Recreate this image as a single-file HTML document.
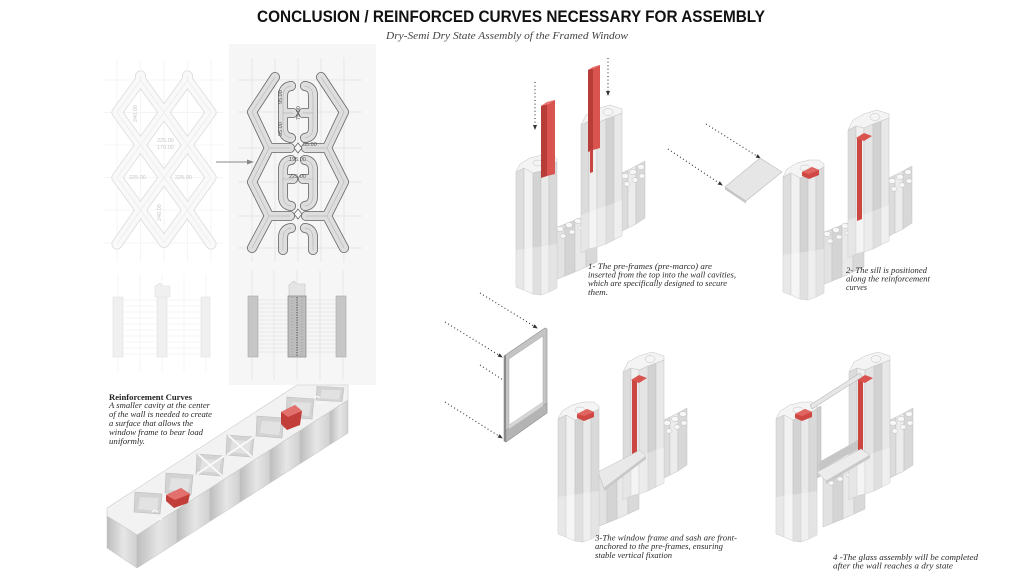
<!DOCTYPE html>
<html><head><meta charset="utf-8">
<style>
html,body{margin:0;padding:0;background:#fff;}
svg{display:block;}
.t{font-family:"Liberation Serif",serif;font-style:italic;font-size:8px;fill:#2a2a2a;}
.lab{font-family:"Liberation Sans",sans-serif;font-size:5.5px;}
</style></head><body>
<svg width="1024" height="576" viewBox="0 0 1024 576" xmlns="http://www.w3.org/2000/svg">
<defs>
<linearGradient id="bul" x1="0" y1="0" x2="1" y2="0"><stop offset="0" stop-color="#bdbdbd"/><stop offset="0.55" stop-color="#e6e6e6"/><stop offset="1" stop-color="#d0d0d0"/></linearGradient>
<marker id="ah" markerWidth="5" markerHeight="5" refX="4" refY="2.5" orient="auto" markerUnits="userSpaceOnUse"><path d="M0,0.5 L5,2.5 L0,4.5 Z" fill="#333"/></marker>
<path id="latL" d="M140.5,80 L164,112.5 L140.5,145 L117,112.5 Z M187.5,80 L211,112.5 L187.5,145 L164,112.5 Z M164,112.5 L187.5,145 L164,177.5 L140.5,145 Z M140.5,145 L164,177.5 L140.5,210 L117,177.5 Z M187.5,145 L211,177.5 L187.5,210 L164,177.5 Z M164,177.5 L187.5,210 L164,242.5 L140.5,210 Z M140.5,210 L117,244 M187.5,210 L211,244 M140.5,80 L140.5,76 M187.5,80 L187.5,76"/>
<path id="latR" d="M275,77 L252,112 L269,148 L252,182 L269,216 L252,248 M321,77 L344,112 L327,148 L344,182 L327,216 L344,248 M291,86 Q283,87 283,96 L283,128 Q283,137 291,138 M283,113 L293,113 M305,86 Q313,87 313,96 L313,128 Q313,137 305,138 M313,113 L303,113 M269,148 L290,148 M327,148 L306,148 M291,160 Q283,161 283,170 L283,196 Q283,205 291,206 M283,179 L293,179 M305,160 Q313,161 313,170 L313,196 Q313,205 305,206 M313,179 L303,179 M269,216 L290,216 M327,216 L306,216 M291,228 Q283,229 283,238 L283,250 M305,228 Q313,229 313,238 L313,250"/>
<g id="wr" stroke="#c2c2c2" stroke-width="0.5">
 <polygon points="620,174 628,170 628,228 620,232" fill="#dcdcdc"/>
 <polygon points="628,170 636,166 636,224 628,228" fill="#ececec"/>
 <polygon points="636,166 645,161 645,218 636,224" fill="#d8d8d8"/>
 <g fill="#f7f7f7" stroke="#bdbdbd">
  <ellipse cx="625" cy="176" rx="3.5" ry="2.6"/><ellipse cx="633" cy="172" rx="3.5" ry="2.6"/><ellipse cx="641" cy="167" rx="3.5" ry="2.6"/>
  <ellipse cx="627" cy="184" rx="3" ry="2.3"/><ellipse cx="635" cy="180" rx="3" ry="2.3"/><ellipse cx="642" cy="176" rx="3" ry="2.3"/>
 </g>
 <polygon points="555,228 565,224 565,276 555,280" fill="#e2e2e2"/>
 <polygon points="565,224 575,220 575,272 565,276" fill="#d4d4d4"/>
 <polygon points="575,220 586,216 586,267 575,272" fill="#e9e9e9"/>
 <polygon points="586,216 597,212 597,262 586,267" fill="#d9d9d9"/>
 <g fill="#f7f7f7" stroke="#bdbdbd">
  <ellipse cx="560" cy="229" rx="3.5" ry="2.6"/><ellipse cx="569" cy="225" rx="3.5" ry="2.6"/><ellipse cx="578" cy="221" rx="3.5" ry="2.6"/><ellipse cx="587" cy="217" rx="3.5" ry="2.6"/>
  <ellipse cx="563" cy="236" rx="3" ry="2.2"/><ellipse cx="572" cy="232" rx="3" ry="2.2"/><ellipse cx="581" cy="228" rx="3" ry="2.2"/>
 </g>
 <polygon points="581,125 589,121 589,249 581,253" fill="#dcdcdc"/>
 <polygon points="589,121 597,123 597,247 589,249" fill="#efefef"/>
 <polygon points="597,123 606,119 606,244 597,247" fill="#e4e4e4"/>
 <polygon points="606,119 614,116 614,240 606,244" fill="#d2d2d2"/>
 <polygon points="614,116 622,113 622,236 614,240" fill="#e8e8e8"/>
 <polygon points="581,215 622,200 622,236 614,240 606,244 597,247 589,249 581,253" fill="#fff" fill-opacity="0.3" stroke="none"/>
 <polygon points="581,125 586,115 597,109 610,105 622,109 622,113 614,116 606,119 597,123 589,121" fill="#f4f4f4"/>
 <ellipse cx="608" cy="112" rx="5" ry="3.5" fill="none"/>
</g>
<g id="wl" stroke="#c2c2c2" stroke-width="0.5">
 <polygon points="516,172 524,168 524,290 516,287" fill="#dedede"/>
 <polygon points="524,168 533,171 533,294 524,290" fill="#f1f1f1"/>
 <polygon points="533,173 541,171 541,295 533,294" fill="#d3d3d3"/>
 <polygon points="541,171 549,166 549,292 541,295" fill="#e9e9e9"/>
 <polygon points="549,166 557,162 557,288 549,292" fill="#d9d9d9"/>
 <polygon points="516,250 557,244 557,288 549,292 541,295 533,294 524,290 516,287" fill="#fff" fill-opacity="0.3" stroke="none"/>
 <polygon points="516,172 520,164 530,158 542,155 552,155 557,159 557,162 549,166 541,171 533,173 524,168" fill="#f4f4f4"/>
 <ellipse cx="538" cy="163" rx="5" ry="3" fill="none"/>
</g>
<g id="redR">
 <polygon points="590,133 595,131 595,214 590,216" fill="#cc4642"/>
 <polygon points="589,133 597,128 605,131 597,136" fill="#d9534f"/>
</g>
<g id="redL">
 <polygon points="535,167 545,162 552,165 552,170 542,174 535,171" fill="#cf4844"/>
 <polygon points="535,167 545,162 552,165 542,169" fill="#e06460"/>
</g>
<g id="cell">
 <polygon points="-13,-11 14,-9 12,11 -14,9" fill="#d3d3d3" stroke="#bcbcbc" stroke-width="0.6"/>
 <polygon points="-8,-6 11,-5 9,8 -10,6" fill="#e2e2e2"/>
</g>
</defs>

<!-- Title -->
<text x="257" y="22" font-family="Liberation Sans, sans-serif" font-weight="bold" font-size="17" textLength="508" lengthAdjust="spacingAndGlyphs" fill="#111">CONCLUSION / REINFORCED CURVES NECESSARY FOR ASSEMBLY</text>
<text x="386" y="39" font-family="Liberation Serif, serif" font-style="italic" font-size="11" textLength="242" lengthAdjust="spacingAndGlyphs" fill="#444">Dry-Semi Dry State Assembly of the Framed Window</text>

<!-- Right panel bg -->
<rect x="229" y="44" width="147" height="341" fill="#f6f6f6"/>

<!-- Left grid -->
<g stroke="#f1f1f1" stroke-width="0.7">
 <line x1="117" y1="60" x2="117" y2="262"/><line x1="140.5" y1="60" x2="140.5" y2="262"/><line x1="164" y1="60" x2="164" y2="262"/><line x1="187.5" y1="60" x2="187.5" y2="262"/><line x1="211" y1="60" x2="211" y2="262"/>
 <line x1="103" y1="80" x2="223" y2="80"/><line x1="103" y1="112.5" x2="223" y2="112.5"/><line x1="103" y1="145" x2="223" y2="145"/><line x1="103" y1="177.5" x2="223" y2="177.5"/><line x1="103" y1="210" x2="223" y2="210"/><line x1="103" y1="243" x2="223" y2="243"/>
</g>
<!-- Right grid -->
<g stroke="#e2e2e2" stroke-width="0.7">
 <line x1="252" y1="58" x2="252" y2="262"/><line x1="275" y1="58" x2="275" y2="262"/><line x1="298" y1="58" x2="298" y2="262"/><line x1="321" y1="58" x2="321" y2="262"/><line x1="344" y1="58" x2="344" y2="262"/>
 <line x1="238" y1="80" x2="362" y2="80"/><line x1="238" y1="112" x2="362" y2="112"/><line x1="238" y1="148" x2="362" y2="148"/><line x1="238" y1="182" x2="362" y2="182"/><line x1="238" y1="216" x2="362" y2="216"/><line x1="238" y1="248" x2="362" y2="248"/>
</g>

<!-- Left lattice (faint) -->
<g fill="none" stroke-linejoin="round" stroke-linecap="round">
 <use href="#latL" stroke="#dcdcdc" stroke-width="11"/>
 <use href="#latL" stroke="#f9f9f9" stroke-width="9.4"/>
 <use href="#latL" stroke="#e6e6e6" stroke-width="0.6"/>
</g>
<g class="lab" fill="#c8c8c8">
 <text transform="translate(137,122) rotate(-90)">240.00</text>
 <text x="157" y="142">225.00</text>
 <text x="157" y="149">170.00</text>
 <text x="129" y="179">225.00</text>
 <text x="175" y="179">225.00</text>
 <text transform="translate(161,221) rotate(-90)">240.00</text>
</g>

<!-- Arrow -->
<line x1="216" y1="162" x2="249" y2="162" stroke="#888" stroke-width="1"/>
<polygon points="254,162 247,159.5 247,164.5" fill="#888"/>

<!-- Right lattice -->
<g fill="none" stroke-linejoin="round" stroke-linecap="round">
 <use href="#latR" stroke="#666" stroke-width="10"/>
 <use href="#latR" stroke="#dedede" stroke-width="8.4"/>
 <use href="#latR" stroke="#a8a8a8" stroke-width="0.5"/>
</g>
<polygon points="298,143 302,148 298,153 294,148" fill="#f6f6f6" stroke="#666" stroke-width="0.8"/>
<polygon points="298,209 302,214 298,219 294,214" fill="#f6f6f6" stroke="#666" stroke-width="0.8"/>
<g class="lab" fill="#555" font-size="5">
 <text transform="translate(282,104) rotate(-90)">95.00</text>
 <text transform="translate(282,136) rotate(-90)">95.00</text>
 <text transform="translate(300,120) rotate(-90)">75.00</text>
 <text x="303" y="146">55.00</text>
 <text x="289" y="161">195.00</text>
 <text x="289" y="178">225.00</text>
</g>

<!-- Left elevation (faint) -->
<g stroke="#f0f0f0" stroke-width="0.6">
 <line x1="118" y1="275" x2="118" y2="372"/><line x1="140" y1="275" x2="140" y2="372"/><line x1="162" y1="275" x2="162" y2="372"/><line x1="184" y1="275" x2="184" y2="372"/><line x1="206" y1="275" x2="206" y2="372"/>
</g>
<g stroke="#ececec" stroke-width="0.5">
 <line x1="123" y1="300" x2="201" y2="300"/><line x1="123" y1="306" x2="201" y2="306"/><line x1="123" y1="312" x2="201" y2="312"/><line x1="123" y1="318" x2="201" y2="318"/><line x1="123" y1="324" x2="201" y2="324"/><line x1="123" y1="330" x2="201" y2="330"/><line x1="123" y1="336" x2="201" y2="336"/><line x1="123" y1="342" x2="201" y2="342"/><line x1="123" y1="348" x2="201" y2="348"/><line x1="123" y1="354" x2="201" y2="354"/>
</g>
<g fill="#f0f0f0" stroke="#e0e0e0" stroke-width="0.6">
 <rect x="113" y="297" width="10" height="60"/>
 <rect x="157" y="297" width="10" height="60"/>
 <rect x="201" y="297" width="9" height="60"/>
 <polygon points="155,297 155,286 160,283 163,286 170,286 170,297"/>
</g>

<!-- Right elevation -->
<g stroke="#e0e0e0" stroke-width="0.6">
 <line x1="252" y1="270" x2="252" y2="380"/><line x1="274" y1="270" x2="274" y2="380"/><line x1="297" y1="270" x2="297" y2="380"/><line x1="320" y1="270" x2="320" y2="380"/><line x1="343" y1="270" x2="343" y2="380"/>
</g>
<g stroke="#dadada" stroke-width="0.5">
 <line x1="258" y1="300" x2="336" y2="300"/><line x1="258" y1="304" x2="336" y2="304"/><line x1="258" y1="308" x2="336" y2="308"/><line x1="258" y1="312" x2="336" y2="312"/><line x1="258" y1="316" x2="336" y2="316"/><line x1="258" y1="320" x2="336" y2="320"/><line x1="258" y1="324" x2="336" y2="324"/><line x1="258" y1="328" x2="336" y2="328"/><line x1="258" y1="332" x2="336" y2="332"/><line x1="258" y1="336" x2="336" y2="336"/><line x1="258" y1="340" x2="336" y2="340"/><line x1="258" y1="344" x2="336" y2="344"/><line x1="258" y1="348" x2="336" y2="348"/><line x1="258" y1="352" x2="336" y2="352"/>
</g>
<polygon points="289,296 289,285 294,281 297,284 305,284 305,296" fill="#e4e4e4" stroke="#c8c8c8" stroke-width="0.6"/>
<rect x="248" y="296" width="10" height="61" fill="#c6c6c6" stroke="#a8a8a8" stroke-width="0.6"/>
<rect x="288" y="296" width="18" height="61" fill="#bdbdbd" stroke="#888" stroke-width="0.7"/>
<line x1="297" y1="297" x2="297" y2="356" stroke="#777" stroke-width="1.6" stroke-dasharray="1.2 1.3"/>
<line x1="292" y1="297" x2="292" y2="356" stroke="#9a9a9a" stroke-width="0.8" stroke-dasharray="1 2"/>
<line x1="302" y1="297" x2="302" y2="356" stroke="#9a9a9a" stroke-width="0.8" stroke-dasharray="1 2"/>
<rect x="336" y="296" width="10" height="61" fill="#c6c6c6" stroke="#a8a8a8" stroke-width="0.6"/>

<!-- Reinforcement text -->
<text x="109" y="400" font-family="Liberation Serif, serif" font-weight="bold" font-size="8.2" fill="#222" textLength="83" lengthAdjust="spacingAndGlyphs">Reinforcement Curves</text>
<text class="t" x="109" y="408" textLength="101" lengthAdjust="spacingAndGlyphs">A smaller cavity at the center</text>
<text class="t" x="109" y="417" textLength="103" lengthAdjust="spacingAndGlyphs">of the wall is needed to create</text>
<text class="t" x="109" y="426" textLength="84" lengthAdjust="spacingAndGlyphs">a surface that allows the</text>
<text class="t" x="109" y="435" textLength="94" lengthAdjust="spacingAndGlyphs">window frame to bear load</text>
<text class="t" x="109" y="444" textLength="36" lengthAdjust="spacingAndGlyphs">uniformly.</text>

<!-- 3D wall bottom-left -->
<polygon points="107,516 137,535 137,568 107,548" fill="url(#bul)" stroke="#c0c0c0" stroke-width="0.5"/>
<g stroke="#c0c0c0" stroke-width="0.5" fill="url(#bul)">
 <polygon points="137,535 177,509.4 177,542.4 137,568"/>
 <polygon points="177,509.4 210,488.3 210,521.3 177,542.4"/>
 <polygon points="210,488.3 240,469.1 240,502.1 210,521.3"/>
 <polygon points="240,469.1 270,449.9 270,482.9 240,502.1"/>
 <polygon points="270,449.9 300,430.7 300,463.7 270,482.9"/>
 <polygon points="300,430.7 330,411.5 330,444.5 300,463.7"/>
 <polygon points="330,411.5 348,400 348,433 330,444.5"/>
</g>
<polygon points="107,508 297,385 348,385 348,400 137,535 107,516" fill="#f2f2f2" stroke="#c8c8c8" stroke-width="0.6"/>
<use href="#cell" transform="translate(148,503)"/>
<use href="#cell" transform="translate(179,484)"/>
<use href="#cell" transform="translate(210,465)"/>
<use href="#cell" transform="translate(240,446)"/>
<use href="#cell" transform="translate(270,427)"/>
<use href="#cell" transform="translate(300,408)"/>
<use href="#cell" transform="translate(330,394) scale(1,0.7)"/>
<g stroke="#fafafa" stroke-width="1.8">
 <line x1="197" y1="474" x2="224" y2="456"/><line x1="198" y1="454" x2="222" y2="476"/>
 <line x1="227" y1="455" x2="254" y2="437"/><line x1="228" y1="435" x2="252" y2="457"/>
</g>
<polygon points="281,412 295,405 302,411 300,425 287,430 281,424" fill="#c23e3a"/>
<polygon points="281,412 295,405 302,411 288,417" fill="#e2716d"/>
<polygon points="166,495 181,488 190,494 188,503 174,508 166,501" fill="#c23e3a"/>
<polygon points="166,495 181,488 190,494 175,500" fill="#e2716d"/>
<g stroke="#f8f8f8" stroke-width="1.5" fill="none">
 <path d="M152,512 q3,-3 6,0"/><path d="M156,520 q3,-3 6,0"/>
 <path d="M314,398 q3,-3 6,0"/><path d="M318,404 q3,-3 6,0"/>
</g>

<!-- Dotted arrows -->
<g stroke="#333" stroke-width="1.1" stroke-dasharray="1 2.6" fill="none" marker-end="url(#ah)">
 <line x1="535" y1="82" x2="535" y2="129"/>
 <line x1="608" y1="58" x2="608" y2="95"/>
 <line x1="706" y1="124" x2="760" y2="158"/>
 <line x1="668" y1="149" x2="722" y2="185"/>
 <line x1="480" y1="293" x2="537" y2="328"/>
 <line x1="445" y1="322" x2="502" y2="357"/>
 <line x1="480" y1="365" x2="537" y2="402"/>
 <line x1="445" y1="402" x2="502" y2="438"/>
</g>

<!-- Wall 1 -->
<use href="#wr"/>
<use href="#wl"/>
<polygon points="541,106 547,102 547,176 541,178" fill="#b83d39"/>
<polygon points="547,102 555,100 555,174 547,176" fill="#d9534f"/>
<polygon points="541,106 547,102 555,100 549,104" fill="#e87a76"/>
<polygon points="588,70 593,67 593,150 588,152" fill="#b83d39"/>
<polygon points="593,67 600,65 600,148 593,150" fill="#d9534f"/>
<polygon points="588,70 593,67 600,65 595,68" fill="#e87a76"/>
<polygon points="590,150 593,149 593,172 590,173" fill="#c94541"/>

<!-- Step 2 sill -->
<polygon points="725,187 760,158 782,172 746,201" fill="#e6e6e6" stroke="#bbb" stroke-width="0.6"/>
<polygon points="725,187 746,201 746,203.5 725,189.5" fill="#c6c6c6"/>

<!-- Wall 2 -->
<g transform="translate(267,5)">
 <use href="#wr"/><use href="#redR"/><use href="#wl"/><use href="#redL"/>
</g>

<!-- Window frame step 3 -->
<polygon points="504,356 545,328 547,329 547,413 506,442 504,441" fill="#c4c4c4" stroke="#8f8f8f" stroke-width="0.6"/>
<polygon points="509,359 543,336 543,402 509,425" fill="#fff" stroke="#a8a8a8" stroke-width="0.5"/>
<polygon points="506,430 547,403 547,413 506,442" fill="#b4b4b4" stroke="#8f8f8f" stroke-width="0.5"/>
<polygon points="509,425 543,402 543,406 509,429" fill="#d6d6d6"/>
<polygon points="504,356 506,355 506,442 504,441" fill="#8a8a8a"/>

<!-- Wall 3 -->
<g transform="translate(42,247)">
 <use href="#wr"/><use href="#redR"/>
</g>
<polygon points="598,472 640,450 646,456 604,488" fill="#e9e9e9" stroke="#bbb" stroke-width="0.5"/>
<polygon points="604,488 646,456 646,459 604,491" fill="#c8c8c8"/>
<g transform="translate(42,247)">
 <use href="#wl"/><use href="#redL"/>
</g>

<!-- Wall 4 -->
<g transform="translate(268,247)">
 <use href="#wr"/><use href="#redR"/>
</g>
<polygon points="817,408 821,406 821,476 817,478" fill="#cfcfcf" stroke="#aaa" stroke-width="0.4"/>
<polygon points="819,462 858,440 858,449 819,471" fill="#c6c6c6"/>
<polygon points="817,472 861,449 870,455 826,481" fill="#ececec" stroke="#bbb" stroke-width="0.5"/>
<polygon points="826,481 870,455 870,458 826,484" fill="#c9c9c9"/>
<g transform="translate(260,247)">
 <use href="#wl"/><use href="#redL"/>
</g>
<polygon points="810,405 860,373 862,377 812,409" fill="#e6e6e6" stroke="#a8a8a8" stroke-width="0.5"/>

<!-- Step texts -->
<text class="t" x="588" y="269" textLength="124" lengthAdjust="spacingAndGlyphs">1- The pre-frames (pre-marco) are</text>
<text class="t" x="588" y="277.5" textLength="148" lengthAdjust="spacingAndGlyphs">inserted from the top into the wall cavities,</text>
<text class="t" x="588" y="286" textLength="139" lengthAdjust="spacingAndGlyphs">which are specifically designed to secure</text>
<text class="t" x="588" y="295" textLength="20" lengthAdjust="spacingAndGlyphs">them.</text>

<text class="t" x="846" y="273" textLength="81" lengthAdjust="spacingAndGlyphs">2- The sill is positioned</text>
<text class="t" x="846" y="281.5" textLength="84" lengthAdjust="spacingAndGlyphs">along the reinforcement</text>
<text class="t" x="846" y="290" textLength="21" lengthAdjust="spacingAndGlyphs">curves</text>

<text class="t" x="595" y="540.5" textLength="142" lengthAdjust="spacingAndGlyphs">3-The window frame and sash are front-</text>
<text class="t" x="595" y="549" textLength="128" lengthAdjust="spacingAndGlyphs">anchored to the pre-frames, ensuring</text>
<text class="t" x="595" y="558" textLength="77" lengthAdjust="spacingAndGlyphs">stable vertical fixation</text>

<text class="t" x="833" y="560" textLength="145" lengthAdjust="spacingAndGlyphs">4 -The glass assembly will be completed</text>
<text class="t" x="833" y="568.5" textLength="120" lengthAdjust="spacingAndGlyphs">after the wall reaches a dry state</text>
</svg>
</body></html>
